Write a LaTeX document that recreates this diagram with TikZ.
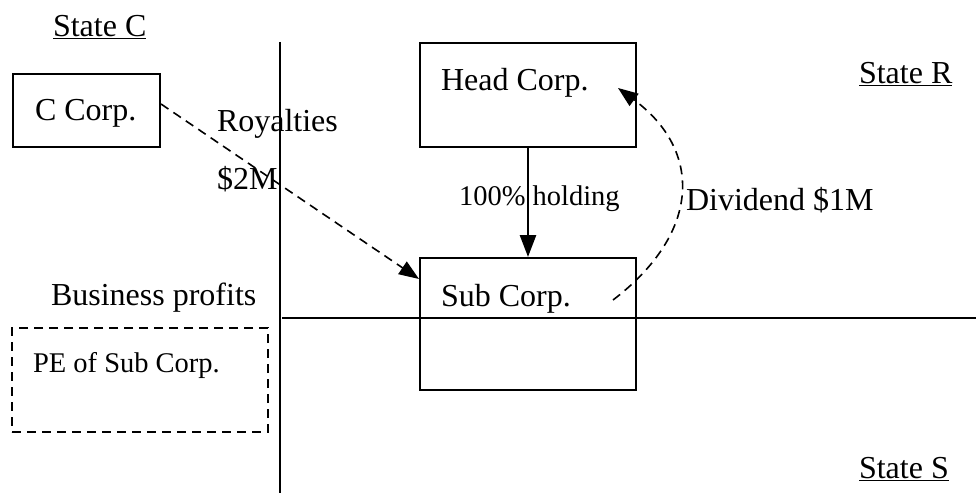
\documentclass[tikz,border=0pt]{standalone}
\usepackage{fontspec}
\setmainfont{Liberation Serif}
\usetikzlibrary{arrows.meta}
\begin{document}
\begin{tikzpicture}[x=1pt,y=-1pt,
  line width=2pt,
  lbl/.style={inner sep=0pt,anchor=west,font=\fontsize{32}{38}\selectfont},
  small/.style={inner sep=0pt,anchor=west,font=\fontsize{28.5}{34}\selectfont},
  corp/.style={draw,inner sep=0pt},
  flow/.style={dash pattern=on 9pt off 6pt,line width=1.6pt,-{Triangle[length=20pt,width=15pt]}},
  solidarrow/.style={line width=2.6pt,-{Triangle[length=22pt,width=16pt]}}]
\useasboundingbox[fill=white] (0,0) rectangle (976,495);

% borders between the states
\coordinate (vtop) at (280,42);
\coordinate (vbot) at (280,493);
\coordinate (hleft) at (282,318);
\coordinate (hright) at (976,318);
\draw (vtop) -- (vbot);
\draw (hleft) -- (hright);

% state names
\node[lbl] (sc) at (52,27) {\underline{State C}};
\node[lbl] (sr) at (858,74) {\underline{State R}};
\node[lbl] (ss) at (858,469) {\underline{State S}};

% companies
\node[corp,minimum width=147pt,minimum height=73pt] (ccorp) at (86.5,110.5) {};
\node[lbl] at (34,113) {C Corp.};
\node[corp,minimum width=216pt,minimum height=104pt] (head) at (528,95) {};
\node[lbl] at (440,83) {Head Corp.};
\node[corp,minimum width=216pt,minimum height=132pt] (sub) at (528,324) {};
\node[lbl] at (440,299) {Sub Corp.};
\node[draw,dash pattern=on 9pt off 6pt,inner sep=0pt,minimum width=256pt,minimum height=104pt] (pe) at (140,380) {};
\node[small] at (32,365) {PE of Sub Corp.};
\node[lbl] (bp) at (50,298) {Business profits};

% payment flows
\coordinate (divstart) at (613,300);
\coordinate (divend) at (618,88);
\draw[flow] (ccorp.east |- 0,104) -- (sub.west |- 0,279);
\draw[solidarrow] (head.south) -- (sub.north);
\draw[flow] (divstart) .. controls (702,232) and (702,150) .. (divend);

% flow labels
\node[lbl] at (216,124) {Royalties};
\node[lbl] at (216,179) {\$2M};
\node[small] at (458,199) {100\% holding};
\node[lbl] at (685,200) {Dividend \$1M};
\end{tikzpicture}
\end{document}
